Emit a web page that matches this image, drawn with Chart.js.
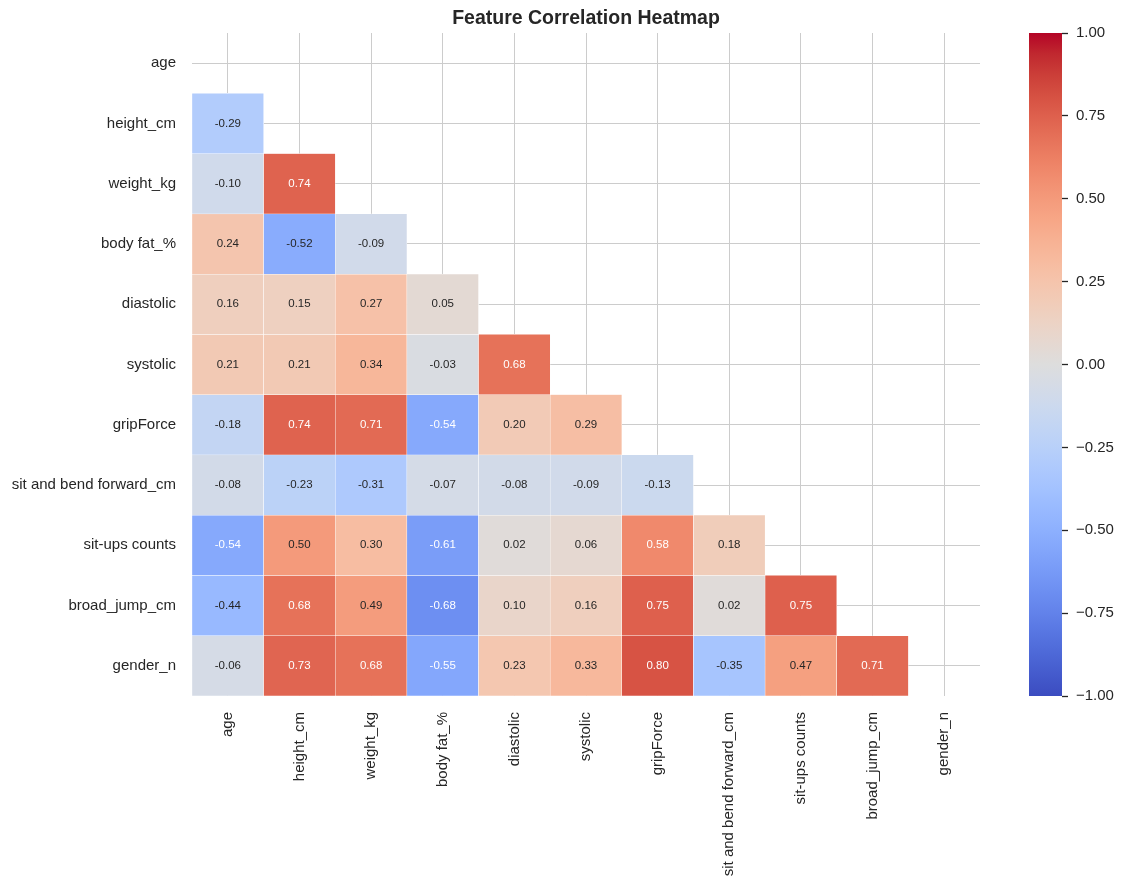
<!DOCTYPE html>
<html>
<head>
<meta charset="utf-8">
<title>Feature Correlation Heatmap</title>
<script src="https://cdn.jsdelivr.net/npm/chart.js@4.4.1/dist/chart.umd.min.js"></script>
<style>
  html, body { margin: 0; padding: 0; background: #fff; }
  #wrap { position: relative; width: 1124px; height: 887px; }
  #wrap canvas { position: absolute; left: 0; top: 0; }
</style>
</head>
<body>
<div id="wrap">
  <canvas id="heatmap" width="1124" height="887"></canvas>
  <canvas id="colorbar" width="1124" height="887"></canvas>
</div>
<script>
// feature names (rows and columns)
const features = ['age', 'height_cm', 'weight_kg', 'body fat_%', 'diastolic', 'systolic',
  'gripForce', 'sit and bend forward_cm', 'sit-ups counts', 'broad_jump_cm', 'gender_n'];

// lower triangle of the correlation matrix, one array per row
const ageRow = [];
const heightRow = [-0.29];
const weightRow = [-0.10, 0.74];
const bodyFatRow = [0.24, -0.52, -0.09];
const diastolicRow = [0.16, 0.15, 0.27, 0.05];
const systolicRow = [0.21, 0.21, 0.34, -0.03, 0.68];
const gripForceRow = [-0.18, 0.74, 0.71, -0.54, 0.20, 0.29];
const sitBendRow = [-0.08, -0.23, -0.31, -0.07, -0.08, -0.09, -0.13];
const sitUpsRow = [-0.54, 0.50, 0.30, -0.61, 0.02, 0.06, 0.58, 0.18];
const broadJumpRow = [-0.44, 0.68, 0.49, -0.68, 0.10, 0.16, 0.75, 0.02, 0.75];
const genderRow = [-0.06, 0.73, 0.68, -0.55, 0.23, 0.33, 0.80, -0.35, 0.47, 0.71];

const rows = [ageRow, heightRow, weightRow, bodyFatRow, diastolicRow, systolicRow,
  gripForceRow, sitBendRow, sitUpsRow, broadJumpRow, genderRow];

// colorbar ticks
const colorbarTicks = [-1, -0.75, -0.5, -0.25, 0, 0.25, 0.5, 0.75, 1];

// matplotlib "coolwarm", 33 evenly spaced samples
const coolwarmStops = [
  [59, 76, 192], [68, 90, 204], [77, 104, 215], [87, 117, 225], [98, 130, 234],
  [108, 142, 241], [119, 154, 247], [130, 165, 251], [141, 176, 254], [152, 185, 255],
  [163, 194, 255], [174, 201, 253], [184, 208, 249], [194, 213, 244], [204, 217, 238],
  [213, 219, 230], [221, 221, 221], [229, 216, 209], [236, 211, 197], [241, 204, 184],
  [245, 196, 172], [247, 187, 159], [247, 177, 147], [247, 166, 134], [244, 154, 123],
  [241, 141, 111], [236, 127, 99], [229, 112, 88], [222, 96, 77], [213, 80, 66],
  [203, 62, 56], [192, 40, 47], [180, 4, 38]
];

const FONT = "'Liberation Sans', Arial, Helvetica, sans-serif";
const TEXT = '#262626';
const GRID = '#cccccc';

function coolwarm(v) {
  const n = coolwarmStops.length - 1;
  const t = Math.min(1, Math.max(0, (v + 1) / 2)) * n;
  const i = Math.min(Math.floor(t), n - 1);
  const f = t - i;
  const a = coolwarmStops[i], b = coolwarmStops[i + 1];
  return a.map((c, k) => Math.round(c + (b[k] - c) * f));
}

function rgb(c) {
  return `rgb(${c[0]}, ${c[1]}, ${c[2]})`;
}

// same rule seaborn uses to pick the annotation colour
function luminance(c) {
  const lin = c.map(x => {
    x = x / 255;
    return x <= 0.03928 ? x / 12.92 : Math.pow((x + 0.055) / 1.055, 2.4);
  });
  return 0.2126 * lin[0] + 0.7152 * lin[1] + 0.0722 * lin[2];
}

// one floating-bar dataset per row
const datasets = rows.map((row, j) => ({
  label: features[j],
  data: row.map((v, i) => ({ x: features[i], y: [j - 0.5, j + 0.5], v: v })),
  backgroundColor: ctx => ctx.raw ? rgb(coolwarm(ctx.raw.v)) : 'transparent',
  borderColor: '#ffffff',
  borderWidth: 0.5,
  borderSkipped: false,
  grouped: false,
  barPercentage: 1,
  categoryPercentage: 1
}));

const annotate = {
  id: 'annotate',
  afterDatasetsDraw(chart) {
    const ctx = chart.ctx;
    ctx.save();
    ctx.font = `11.5px ${FONT}`;
    ctx.textAlign = 'center';
    ctx.textBaseline = 'middle';
    chart.data.datasets.forEach((ds, d) => {
      chart.getDatasetMeta(d).data.forEach((bar, k) => {
        const item = ds.data[k];
        if (!item) return;
        const p = bar.getCenterPoint();
        ctx.fillStyle = luminance(coolwarm(item.v)) > 0.408 ? TEXT : '#ffffff';
        ctx.fillText(item.v.toFixed(2), p.x, p.y);
      });
    });
    ctx.restore();
  }
};

new Chart(document.getElementById('heatmap'), {
  type: 'bar',
  data: { labels: features, datasets: datasets },
  plugins: [annotate],
  options: {
    responsive: false,
    animation: false,
    layout: { padding: { left: 0, right: 144, top: 0, bottom: 0 } },
    plugins: {
      legend: { display: false },
      tooltip: { enabled: false },
      title: {
        display: true,
        text: 'Feature Correlation Heatmap',
        color: TEXT,
        fullSize: false,
        font: { family: FONT, size: 19.5, weight: 'bold' },
        padding: { top: 7, bottom: 2.6 }
      }
    },
    scales: {
      x: {
        type: 'category',
        offset: true,
        grid: { color: GRID, lineWidth: 1, drawTicks: false, offset: false },
        border: { display: false },
        ticks: {
          color: TEXT,
          font: { family: FONT, size: 15 },
          minRotation: 90,
          maxRotation: 90,
          autoSkip: false,
          padding: 16
        },
        afterFit: axis => { axis.height = 191; }
      },
      y: {
        type: 'linear',
        reverse: true,
        min: -0.5,
        max: 10.5,
        grid: { color: GRID, lineWidth: 1, drawTicks: false },
        border: { display: false },
        afterBuildTicks: axis => { axis.ticks = features.map((f, i) => ({ value: i })); },
        ticks: {
          color: TEXT,
          font: { family: FONT, size: 15 },
          padding: 16,
          callback: value => features[value]
        },
        afterFit: axis => { axis.width = 192; }
      }
    }
  }
});

// colorbar
new Chart(document.getElementById('colorbar'), {
  type: 'bar',
  data: {
    labels: [''],
    datasets: [{
      data: [[colorbarTicks[0], colorbarTicks[colorbarTicks.length - 1]]],
      backgroundColor: ctx => {
        const area = ctx.chart.chartArea;
        if (!area) return 'transparent';
        const g = ctx.chart.ctx.createLinearGradient(0, area.bottom, 0, area.top);
        coolwarmStops.forEach((c, k) => g.addColorStop(k / (coolwarmStops.length - 1), rgb(c)));
        return g;
      },
      borderWidth: 0,
      barPercentage: 1,
      categoryPercentage: 1
    }]
  },
  options: {
    responsive: false,
    animation: false,
    layout: { padding: { left: 1029, right: 0, top: 33, bottom: 191 } },
    plugins: { legend: { display: false }, tooltip: { enabled: false } },
    scales: {
      x: { display: false },
      y: {
        position: 'right',
        min: -1,
        max: 1,
        border: { display: false },
        grid: { drawOnChartArea: false, drawTicks: true, tickLength: 6, tickColor: TEXT, tickWidth: 1.3 },
        afterBuildTicks: axis => { axis.ticks = colorbarTicks.map(v => ({ value: v })); },
        ticks: {
          color: TEXT,
          font: { family: FONT, size: 15 },
          padding: 8,
          callback: value => value.toFixed(2).replace('-', '\u2212')
        },
        afterFit: axis => { axis.width = 62; }
      }
    }
  }
});
</script>
</body>
</html>
